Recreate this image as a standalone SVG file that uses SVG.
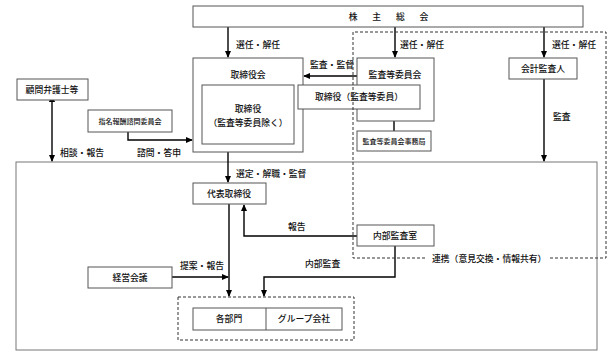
<svg xmlns="http://www.w3.org/2000/svg" width="615" height="363" viewBox="0 0 615 363">
<style>
text{font-family:"Noto Sans CJK JP","Noto Sans CJK SC",sans-serif;font-size:8.8px;fill:#111;font-weight:500;}
.c{text-anchor:middle;}
.s{font-size:7px;}
.box{fill:#fff;stroke:#555;stroke-width:1;}
.frame{fill:none;stroke:#777;stroke-width:1;}
.ar{fill:none;stroke:#000;stroke-width:1.4;}
.dash{fill:none;stroke:#333;stroke-width:1;stroke-dasharray:3,2;}
</style>
<defs>
<marker id="ah" viewBox="0 0 8 8" refX="7" refY="4" markerWidth="7" markerHeight="7" orient="auto" markerUnits="userSpaceOnUse">
<path d="M0,0.5 L8,4 L0,7.5 Z" fill="#000"/>
</marker>
<marker id="ahs" viewBox="0 0 8 8" refX="1" refY="4" markerWidth="7" markerHeight="7" orient="auto-start-reverse" markerUnits="userSpaceOnUse">
<path d="M0,0.5 L8,4 L0,7.5 Z" fill="#000"/>
</marker>
</defs>
<rect width="615" height="363" fill="#fff"/>

<g id="company-frame"><rect class="frame" x="16" y="162" width="581" height="188"/></g>

<g id="connectors">
<path class="ar" d="M228,27 V57" marker-end="url(#ah)"/>
<path class="ar" d="M395,27 V57" marker-end="url(#ah)"/>
<path class="ar" d="M544,27 V57" marker-end="url(#ah)"/>
<path class="ar" d="M544,79 V161" marker-end="url(#ah)"/>
<path class="ar" d="M357,76 H304" marker-end="url(#ah)"/>
<path class="ar" d="M394,121 V131"/>
<path class="ar" d="M128,132 V140 H192" marker-end="url(#ah)"/>
<path class="ar" d="M52,101 V161" marker-start="url(#ahs)" marker-end="url(#ah)"/>
<path class="ar" d="M228,152 V182" marker-end="url(#ah)"/>
<path class="ar" d="M229,204 V296" marker-end="url(#ah)"/>
<path class="ar" d="M357,236 H244 V205" marker-end="url(#ah)"/>
<path class="ar" d="M172,277 H228" marker-end="url(#ah)"/>
<path class="ar" d="M395,246 V277 H264 V296" marker-end="url(#ah)"/>
</g>

<g id="shareholders"><rect class="box" x="193" y="6" width="390" height="21"/>
<text class="c" x="390" y="20" letter-spacing="3">株　主　総　会</text></g>

<g id="board"><rect class="box" x="193" y="58" width="110" height="94"/>
<text class="c" x="248" y="78">取締役会</text></g>
<g id="directors"><rect class="box" x="202" y="85" width="92" height="59"/>
<text class="c" x="248" y="112">取締役</text>
<text class="c" x="248" y="126">（監査等委員除く）</text></g>

<g id="audit-committee"><rect class="box" x="357" y="58" width="77" height="63"/>
<text class="c" x="395" y="78">監査等委員会</text></g>
<g id="audit-director"><rect class="box" x="298" y="85" width="122" height="24"/>
<text class="c" x="359" y="100">取締役（監査等委員）</text></g>
<g id="audit-office"><rect class="box" x="357" y="131" width="74" height="20"/>
<text class="c s" x="394" y="144">監査等委員会事務局</text></g>

<g id="accounting-auditor"><rect class="box" x="509" y="58" width="68" height="21"/>
<text class="c" x="543" y="72">会計監査人</text></g>

<g id="lawyers"><rect class="box" x="17" y="79" width="71" height="21"/>
<text class="c" x="52" y="93">顧問弁護士等</text></g>

<g id="nomination"><rect class="box" x="88" y="110" width="84" height="22"/>
<text class="c s" x="130" y="124">指名報酬諮問委員会</text></g>

<g id="president"><rect class="box" x="193" y="183" width="73" height="21"/>
<text class="c" x="229" y="197">代表取締役</text></g>

<g id="management-meeting"><rect class="box" x="88" y="267" width="84" height="21"/>
<text class="c" x="130" y="281">経営会議</text></g>

<g id="internal-audit"><rect class="box" x="357" y="225" width="77" height="21"/>
<text class="c" x="395" y="239">内部監査室</text></g>

<g id="departments">
<rect class="dash" x="178" y="297" width="176" height="43"/>
<rect class="box" x="193" y="308" width="149" height="22"/>
<line x1="266" y1="308" x2="266" y2="330" stroke="#555"/>
<text class="c" x="229" y="322">各部門</text>
<text class="c" x="304" y="322">グループ会社</text>
</g>

<g id="audit-group-frame">
<path class="dash" d="M425,258 H353 V32 H606 V258 H550"/>
</g>

<g id="labels">
<text x="236" y="48">選任・解任</text>
<text x="400" y="48">選任・解任</text>
<text x="552" y="48">選任・解任</text>
<text x="310" y="68">監査・監督</text>
<text x="553" y="120">監査</text>
<text x="60" y="156">相談・報告</text>
<text x="137" y="156">諮問・答申</text>
<text x="236" y="177">選定・解職・監督</text>
<text x="288" y="230">報告</text>
<text x="305" y="267">内部監査</text>
<text x="180" y="269">提案・報告</text>
<text x="432" y="262">連携（意見交換・情報共有）</text>
</g>
</svg>
